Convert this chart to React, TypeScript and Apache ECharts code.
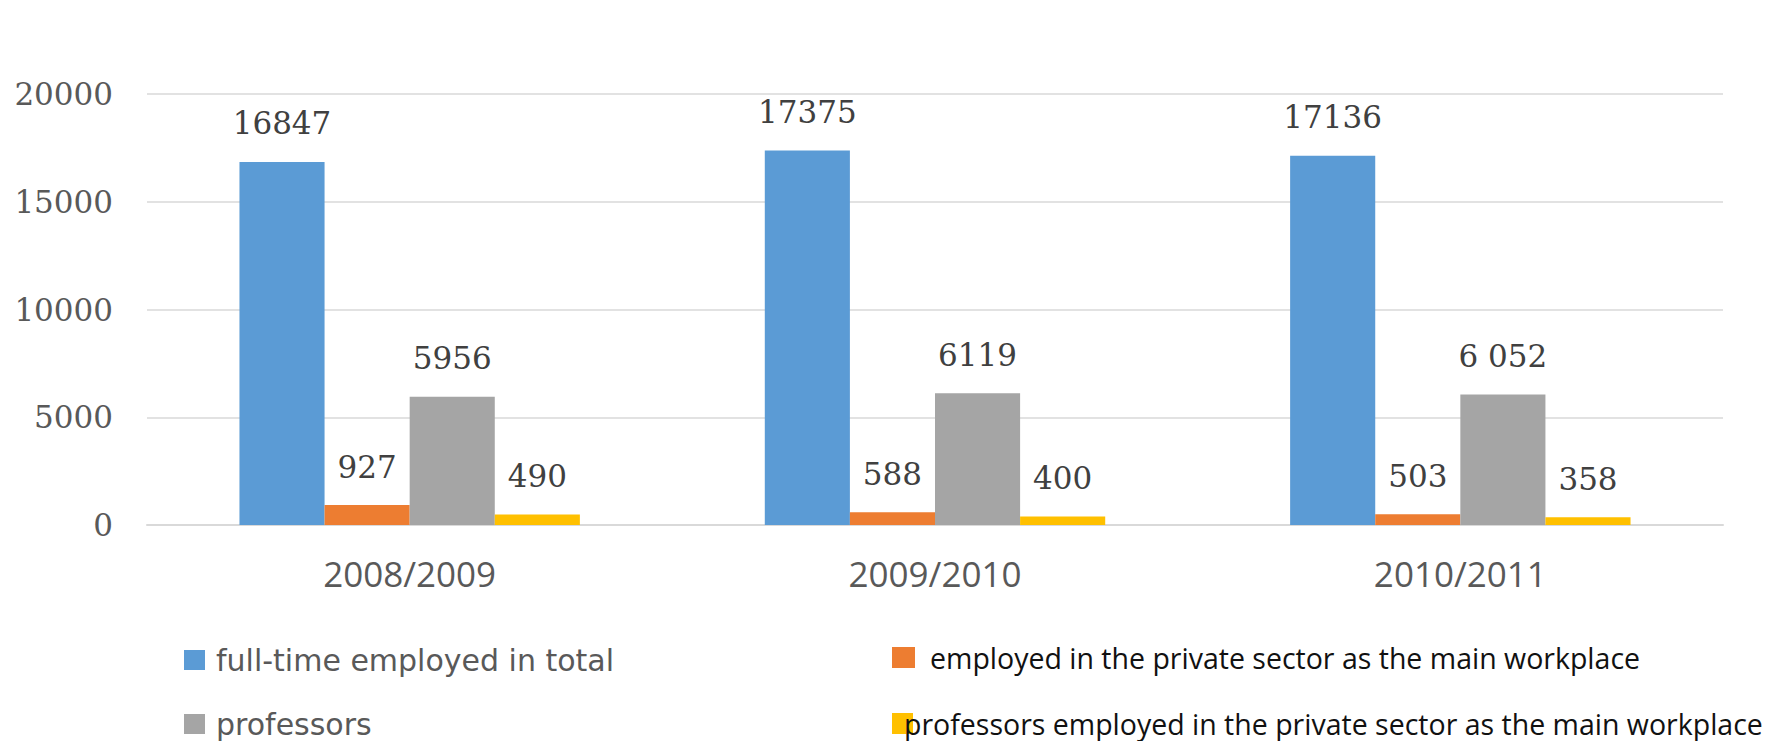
import React, { useEffect, useRef } from "react";
import * as echarts from "echarts";

const categories = ["2008/2009", "2009/2010", "2010/2011"];
const seriesNames = [
  "full-time employed in total",
  "employed in the private sector as the main workplace",
  "professors",
  "professors employed in the private sector as the main workplace",
];
const fullTimeTotal = [16847, 17375, 17136];
const privateSector = [927, 588, 503];
const professors = [5956, 6119, 6052];
const professorsPrivate = [490, 400, 358];
const professorLabels = ["5956", "6119", "6 052"];
const yMin = 0;
const yMax = 20000;
const yInterval = 5000;
const colors = ["#5B9BD5", "#ED7D31", "#A5A5A5", "#FFC000"];

export default function App() {
  const ref = useRef<HTMLDivElement>(null);
  useEffect(() => {
    if (!ref.current) return;
    const chart = echarts.init(ref.current, undefined, { renderer: "svg" });
    const labelStyle = {
      show: true,
      position: "top" as const,
      distance: 23,
      fontFamily: "DejaVu Serif",
      fontSize: 31,
      color: "#404040",
    };
    const values = [fullTimeTotal, privateSector, professors, professorsPrivate];
    const leftText = {
      fontFamily: "DejaVu Sans",
      fontSize: 30,
      color: "#595959",
      lineHeight: 30,
      padding: [0, 0, 0, 6],
    };
    const rightText = {
      fontFamily: "Open Sans",
      fontSize: 28.5,
      color: "#111111",
      lineHeight: 28,
      padding: [0, 0, 0, 10],
    };
    const legendBase = {
      orient: "horizontal",
      padding: 0,
      icon: "rect",
      selectedMode: false,
      height: 40,
    };
    chart.setOption({
      animation: false,
      backgroundColor: "#ffffff",
      color: colors,
      grid: { left: 147, right: 44, top: 94, bottom: 216, containLabel: false },
      legend: [
        {
          ...legendBase,
          data: [seriesNames[0]],
          left: 184,
          top: 645,
          itemWidth: 21,
          itemHeight: 20,
          textStyle: leftText,
        },
        {
          ...legendBase,
          data: [seriesNames[2]],
          left: 184,
          top: 709,
          itemWidth: 21,
          itemHeight: 20,
          textStyle: leftText,
        },
        {
          ...legendBase,
          data: [seriesNames[1]],
          left: 892,
          top: 643,
          itemWidth: 23,
          itemHeight: 21,
          textStyle: rightText,
        },
        {
          ...legendBase,
          data: [seriesNames[3]],
          left: 892,
          top: 709,
          itemWidth: 21,
          itemHeight: 21,
          textStyle: { ...rightText, padding: [0, 0, 0, -14] },
        },
      ],
      xAxis: {
        type: "category",
        data: categories,
        axisTick: { show: false },
        axisLine: { lineStyle: { color: "#D9D9D9", width: 2 } },
        axisLabel: {
          fontFamily: "Open Sans",
          fontSize: 35,
          color: "#595959",
          margin: 31,
        },
      },
      yAxis: {
        type: "value",
        min: yMin,
        max: yMax,
        interval: yInterval,
        axisLine: { show: false },
        axisTick: { show: false },
        axisLabel: {
          fontFamily: "DejaVu Serif",
          fontSize: 31,
          color: "#595959",
          margin: 34,
          formatter: (v: number) => String(v),
        },
        splitLine: { lineStyle: { color: "#D9D9D9", width: 1.5 } },
      },
      series: seriesNames.map((name, si) => ({
        name,
        type: "bar",
        barWidth: "16.2%",
        barGap: "0%",
        data:
          si === 2
            ? values[si].map((v, i) => ({ value: v, label: { formatter: professorLabels[i] } }))
            : values[si],
        label: labelStyle,
        itemStyle: { color: colors[si] },
      })),
    });
    return () => chart.dispose();
  }, []);
  return (
    <div
      ref={ref}
      style={{ position: "fixed", left: 0, top: 0, width: 1767, height: 741 }}
    />
  );
}
